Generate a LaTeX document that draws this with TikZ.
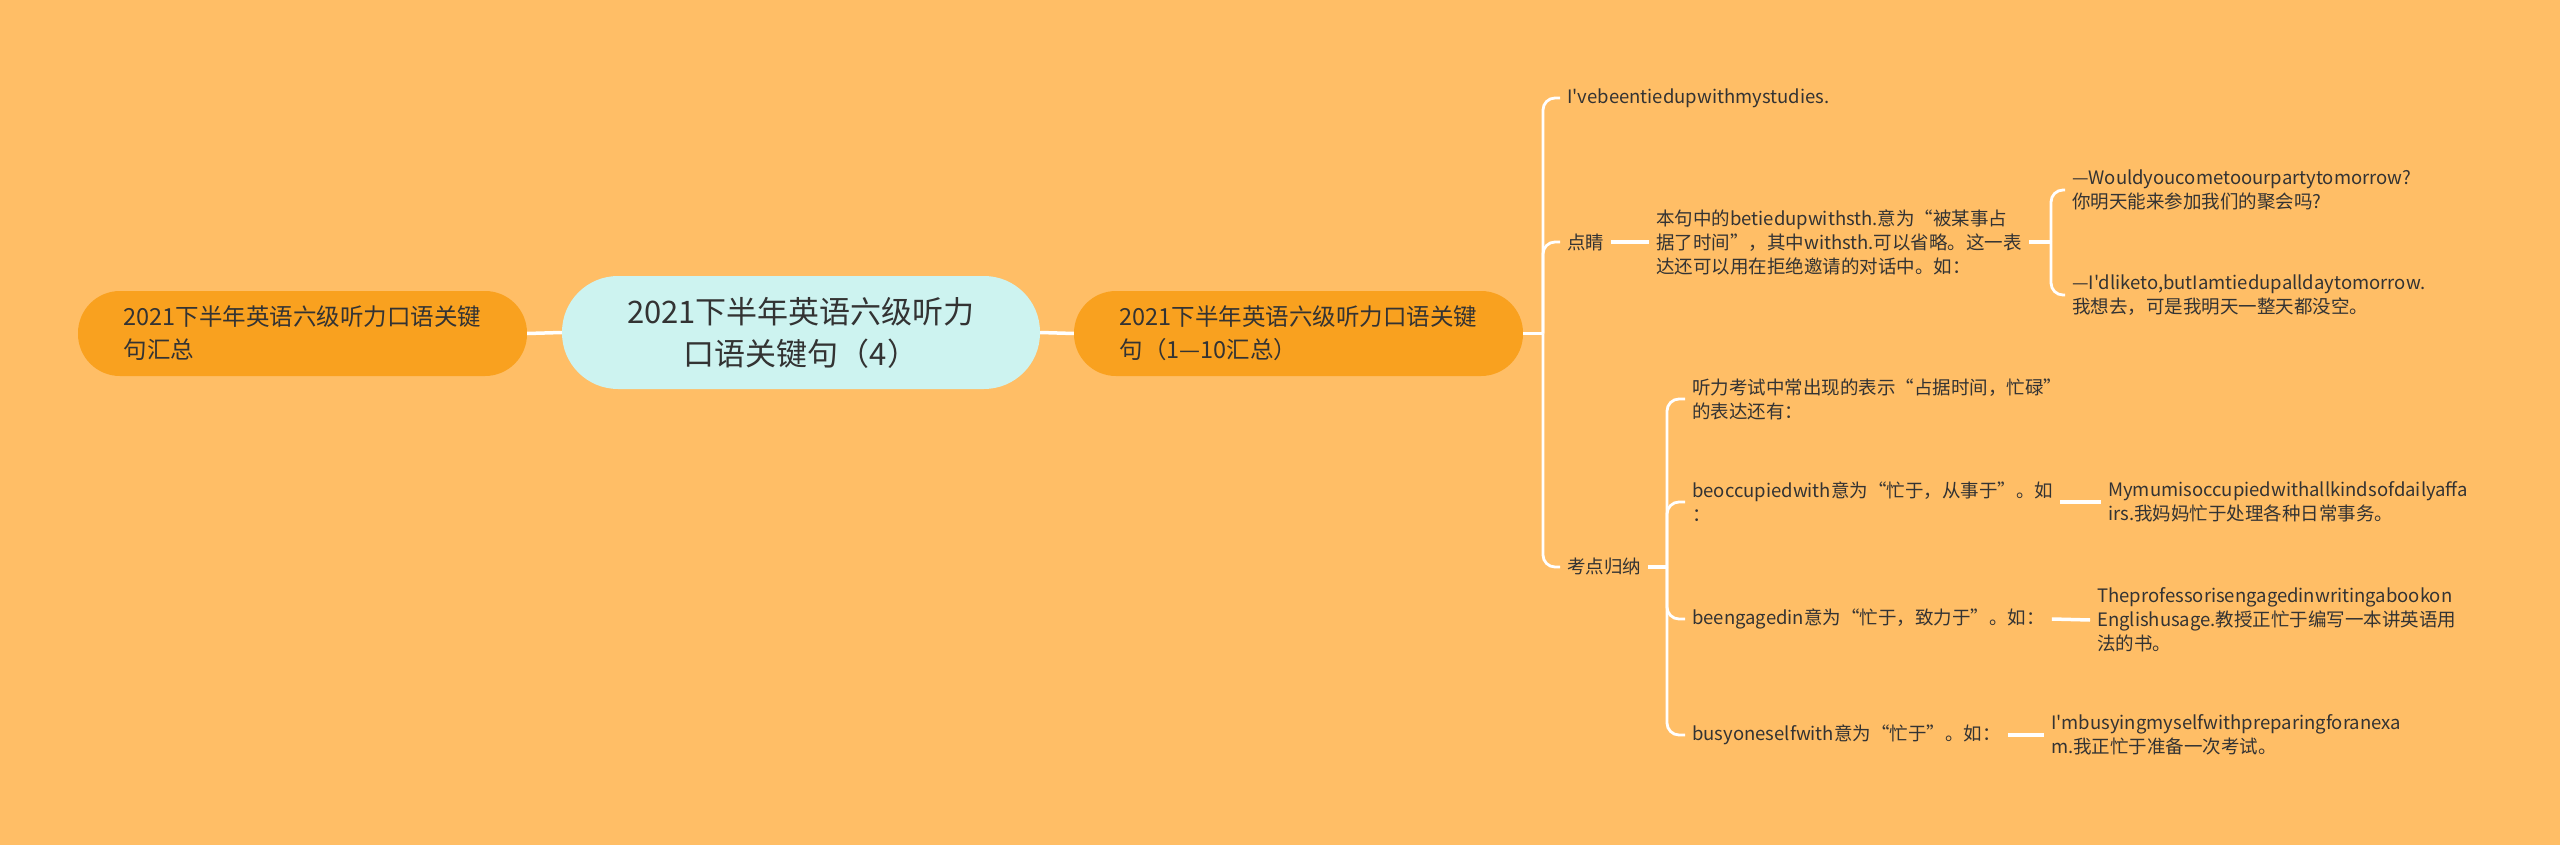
\documentclass[tikz,border=0pt]{standalone}
\usepackage{fontspec}
\setmainfont{Noto Sans CJK SC}[Ligatures=TeXOff]
\definecolor{bgc}{HTML}{FFBE66}
\definecolor{orangeN}{HTML}{F9A11F}
\definecolor{cyanN}{HTML}{CDF3F0}
\definecolor{txt}{HTML}{333333}
\begin{document}
\begin{tikzpicture}[x=1pt,y=-1pt,
  conn/.style={draw=white, line width=3.5pt},
  bra/.style={draw=white, line width=2.8pt, rounded corners=12pt},
  topic/.style={fill=orangeN, rounded corners=42pt, minimum width=449pt, minimum height=85pt, inner sep=0pt, font=\fontsize{23.5}{33}\selectfont, align=left, text=txt},
  centr/.style={fill=cyanN, rounded corners=56pt, minimum width=478pt, minimum height=113pt, inner sep=0pt, font=\fontsize{31}{42}\selectfont, align=center, text=txt},
  leaf/.style={anchor=west, inner xsep=7pt, inner ysep=3pt, font=\fontsize{18.5}{24}\selectfont, align=left, text=txt}]
\fill[bgc] (0,0) rectangle (2560,845);
\useasboundingbox (0,0) rectangle (2560,845);

% main nodes
\node[topic] (L) at (302.5,333.5) {2021下半年英语六级听力口语关键\\句汇总};
\node[centr] (C) at (801,332.5) {2021下半年英语六级听力\\口语关键句（4）};
\node[topic] (R) at (1298.5,333.5) {2021下半年英语六级听力口语关键\\句（1—10汇总）};

% first level
\node[leaf] (c1) at (1560,98) {I've\-beentiedupwithmystudies.};
\node[leaf] (c2) at (1560,242) {点睛};
\node[leaf] (c3) at (1560,567) {考点归纳};

% 点睛 branch
\node[leaf] (d1) at (1649,242) {本句中的betiedupwithsth.意为“被某事占\\据了时间”，其中withsth.可以省略。这一表\\达还可以用在拒绝邀请的对话中。如：};
\node[leaf] (e1) at (2065,190) {—Wouldyoucometoourpartytomorrow?\\你明天能来参加我们的聚会吗?};
\node[leaf] (e2) at (2065,295) {—I'dliketo,butIamtiedupalldaytomorrow.\\我想去，可是我明天一整天都没空。};

% 考点归纳 branch
\node[leaf] (f1) at (1685,399) {听力考试中常出现的表示“占据时间，忙碌”\\的表达还有：};
\node[leaf] (f2) at (1685,502) {beoccupiedwith意为“忙于，从事于”。如\\：};
\node[leaf] (f3) at (1685,619) {beengagedin意为“忙于，致力于”。如：};
\node[leaf] (f4) at (1685,735) {busyoneselfwith意为“忙于”。如：};
\node[leaf] (g1) at (2101,502) {Mymumisoccupiedwithallkindsofdailyaffa\\irs.我妈妈忙于处理各种日常事务。};
\node[leaf] (g2) at (2090,620) {Theprofessorisengagedinwritingabookon\\Englishusage.教授正忙于编写一本讲英语用\\法的书。};
\node[leaf] (g3) at (2044,735) {I'mbusyingmyselfwithpreparingforanexa\\m.我正忙于准备一次考试。};

% bracket junctions
\coordinate (b1) at (1543,333.5);
\coordinate (b2) at (2051,242);
\coordinate (b3) at (1667,567);

% connectors
\draw[conn] (L.east) -- (C.west);
\draw[conn] (C.east) -- (R.west);
\draw[conn] (R.east) -- (b1);
\draw[bra] (b1) |- (c1.west);
\draw[bra] (b1) |- (c2.west);
\draw[bra] (b1) |- (c3.west);
\draw[conn] (c2.east) -- (d1.west);
\draw[conn] (d1.east) -- (b2);
\draw[bra] (b2) |- (e1.west);
\draw[bra] (b2) |- (e2.west);
\draw[conn] (c3.east) -- (b3);
\draw[bra] (b3) |- (f1.west);
\draw[bra] (b3) |- (f2.west);
\draw[bra] (b3) |- (f3.west);
\draw[bra] (b3) |- (f4.west);
\draw[conn] (f2.east) -- (g1.west);
\draw[conn] (f3.east) -- (g2.west);
\draw[conn] (f4.east) -- (g3.west);
\end{tikzpicture}
\end{document}
